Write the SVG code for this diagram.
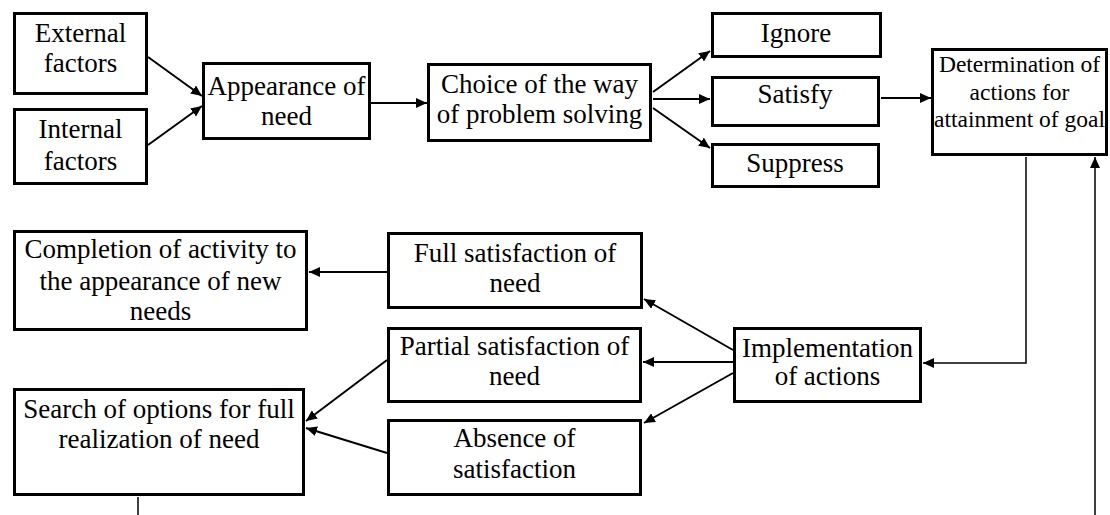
<svg xmlns="http://www.w3.org/2000/svg" width="1110" height="515" viewBox="0 0 1110 515">
<style>
.box{fill:#fff;stroke:#000;stroke-width:3}
.t{font-family:'Liberation Serif',Tinos,'DejaVu Serif',serif;font-size:27px;text-anchor:middle;fill:#000}
.ts{font-family:'Liberation Serif',Tinos,'DejaVu Serif',serif;font-size:23.5px;text-anchor:middle;fill:#000}
.c{fill:none;stroke:#000;stroke-width:2}
.thin{fill:none;stroke:#000;stroke-width:1.5}
</style>
<defs>
<marker id="ah" markerUnits="userSpaceOnUse" markerWidth="12" markerHeight="10" refX="11" refY="5" orient="auto">
<path d="M0,0 L11,5 L0,10 Z" fill="#000"/>
</marker>
</defs>
<rect width="1110" height="515" fill="#fff"/>
<g id="connectors">
<line class="c" x1="148" y1="57" x2="202" y2="96" marker-end="url(#ah)"/>
<line class="c" x1="148" y1="145" x2="202" y2="106" marker-end="url(#ah)"/>
<line class="c" x1="371" y1="103" x2="427" y2="103" marker-end="url(#ah)"/>
<line class="c" x1="653" y1="92" x2="710" y2="51" marker-end="url(#ah)"/>
<line class="c" x1="653" y1="99" x2="710" y2="99" marker-end="url(#ah)"/>
<line class="c" x1="653" y1="108" x2="710" y2="148" marker-end="url(#ah)"/>
<line class="c" x1="881" y1="98" x2="931" y2="98" marker-end="url(#ah)"/>
<polyline class="thin" points="1026,157 1026,363 923,363" marker-end="url(#ah)"/>
<line class="c" x1="733" y1="350" x2="644" y2="299" marker-end="url(#ah)"/>
<line class="c" x1="733" y1="362" x2="643" y2="362" marker-end="url(#ah)"/>
<line class="c" x1="733" y1="373" x2="644" y2="423" marker-end="url(#ah)"/>
<line class="c" x1="387" y1="272" x2="309" y2="272" marker-end="url(#ah)"/>
<line class="c" x1="387" y1="360" x2="306" y2="421" marker-end="url(#ah)"/>
<line class="c" x1="387" y1="453" x2="306" y2="428" marker-end="url(#ah)"/>
<line class="thin" x1="138" y1="497" x2="138" y2="515"/>
<line class="thin" x1="1095" y1="515" x2="1095" y2="157" marker-end="url(#ah)"/>
</g>
<g id="external"><rect class="box" x="14.5" y="13.5" width="132" height="80"/><text class="t" x="80.5" y="42">External</text><text class="t" x="80.5" y="72">factors</text></g>
<g id="internal"><rect class="box" x="14.5" y="109.5" width="132" height="74"/><text class="t" x="80.5" y="138">Internal</text><text class="t" x="80.5" y="170">factors</text></g>
<g id="appearance"><rect class="box" x="203.5" y="63.5" width="166" height="75"/><text class="t" x="286.5" y="95">Appearance of</text><text class="t" x="286.5" y="125">need</text></g>
<g id="choice"><rect class="box" x="428.5" y="64.5" width="222" height="76"/><text class="t" x="539.5" y="93">Choice of the way</text><text class="t" x="539.5" y="123">of problem solving</text></g>
<g id="ignore"><rect class="box" x="712.5" y="13.5" width="168" height="43"/><text class="t" x="796" y="42">Ignore</text></g>
<g id="satisfy"><rect class="box" x="712.5" y="77.5" width="166" height="48"/><text class="t" x="795" y="103">Satisfy</text></g>
<g id="suppress"><rect class="box" x="712.5" y="144.5" width="166" height="42"/><text class="t" x="795" y="172">Suppress</text></g>
<g id="determination"><rect class="box" x="932.5" y="49.5" width="174" height="105"/><text class="ts" x="1019.5" y="72">Determination of</text><text class="ts" x="1019.5" y="100">actions for</text><text class="ts" x="1019.5" y="127">attainment of goal</text></g>
<g id="completion"><rect class="box" x="14.5" y="231.5" width="292" height="98"/><text class="t" x="160.5" y="258">Completion of activity to</text><text class="t" x="160.5" y="290">the appearance of new</text><text class="t" x="160.5" y="320">needs</text></g>
<g id="full"><rect class="box" x="388.5" y="233.5" width="253" height="74"/><text class="t" x="515" y="262">Full satisfaction of</text><text class="t" x="515" y="292">need</text></g>
<g id="partial"><rect class="box" x="388.5" y="328.5" width="252" height="73"/><text class="t" x="514.5" y="355">Partial satisfaction of</text><text class="t" x="514.5" y="385">need</text></g>
<g id="absence"><rect class="box" x="388.5" y="420.5" width="252" height="74"/><text class="t" x="514.5" y="447">Absence of</text><text class="t" x="514.5" y="478">satisfaction</text></g>
<g id="implementation"><rect class="box" x="734.5" y="328.5" width="186" height="73"/><text class="t" x="827.5" y="357">Implementation</text><text class="t" x="827.5" y="385">of actions</text></g>
<g id="search"><rect class="box" x="14.5" y="389.5" width="289" height="105"/><text class="t" x="159" y="418">Search of options for full</text><text class="t" x="159" y="448">realization of need</text></g>
</svg>
